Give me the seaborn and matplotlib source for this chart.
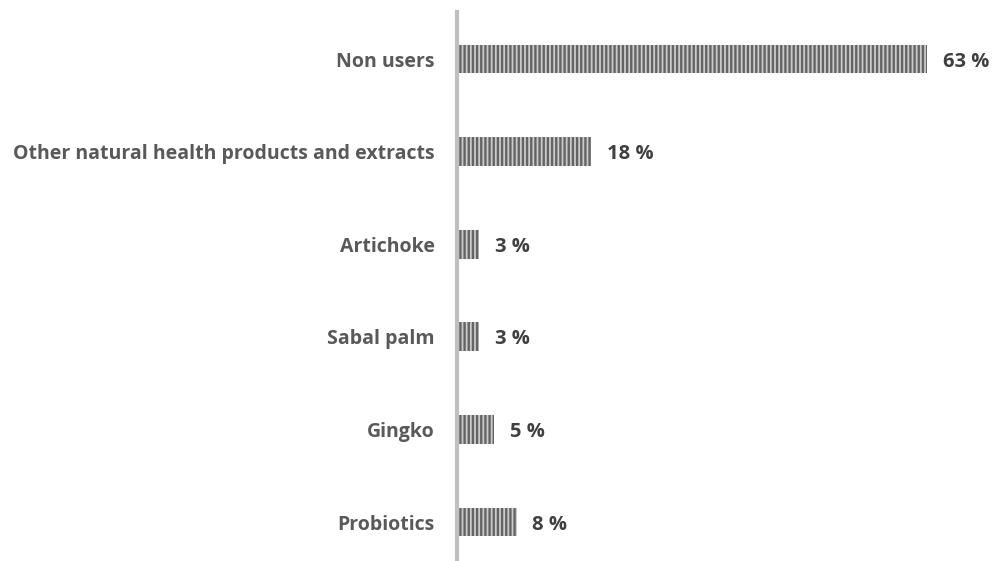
import matplotlib
matplotlib.use("Agg")
import matplotlib.pyplot as plt
import seaborn as sns
import pandas as pd

categories = ["Non users", "Other natural health products and extracts",
              "Artichoke", "Sabal palm", "Gingko", "Probiotics"]
values = [63, 18, 3, 3, 5, 8]
value_labels = ["63 %", "18 %", "3 %", "3 %", "5 %", "8 %"]

df = pd.DataFrame({"category": categories, "value": values})

sns.set_theme(style="white")
plt.rcParams["font.family"] = ["Open Sans", "DejaVu Sans"]
plt.rcParams["hatch.linewidth"] = 1.7

fig = plt.figure(figsize=(9.92, 5.61), dpi=100)
ax = fig.add_axes([457 / 992, 0.0, 1 - 457 / 992, 1 - 12 / 561])

sns.barplot(data=df, x="value", y="category", orient="h", ax=ax,
            color="#cbcbcb", width=0.31, saturation=1)

# vertical-stripe fill on every bar
for p in ax.patches:
    p.set_hatch("||||")
    p.set_edgecolor("#646464")
    p.set_linewidth(0.0)

ax.set_xlim(0, 535 / 7.46)
ax.set_ylim(5 + 39 / 92.6, -47 / 92.6)

for i, (v, lab) in enumerate(zip(values, value_labels)):
    ax.text(v + 2.1, i, lab, va="center_baseline", ha="left", fontsize=14.5,
            fontweight="bold", color="#404040")

ax.set_xlabel("")
ax.set_ylabel("")
ax.set_xticks([])
ax.tick_params(axis="y", length=0, pad=16)
for t in ax.get_yticklabels():
    t.set_fontsize(14)
    t.set_fontweight("bold")
    t.set_color("#595959")

for side in ["top", "right", "bottom"]:
    ax.spines[side].set_visible(False)
ax.spines["left"].set_color("#bfbfbf")
ax.spines["left"].set_linewidth(3)

fig.savefig("out.png", dpi=100)
